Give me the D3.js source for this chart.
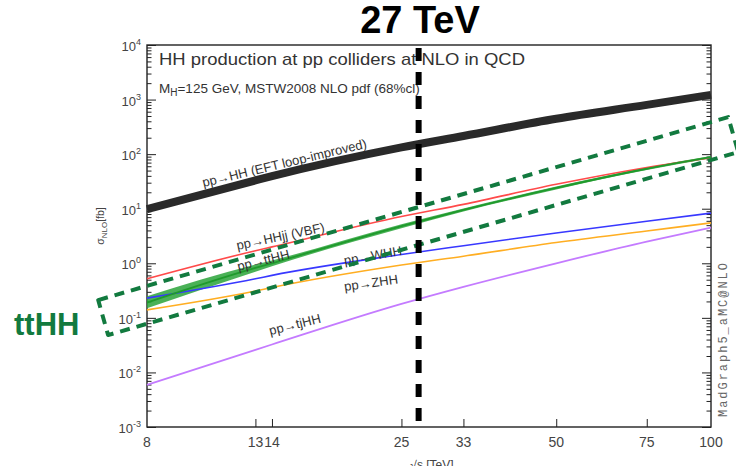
<!DOCTYPE html>
<html>
<head>
<meta charset="utf-8">
<script src="https://cdn.jsdelivr.net/npm/d3@7"></script>
<style>
  body { margin: 0; background: #fff; }
  text { font-family: "Liberation Sans", Arial, sans-serif; }
</style>
</head>
<body>
<svg id="chart" width="736" height="466"></svg>
<script>
// collider energies (TeV) and NLO cross sections (fb)
var energies = [8, 13, 14, 25, 33, 50, 75, 100];
var hh       = [9.8, 33, 39.5, 133, 215, 445, 800, 1220];
var hhjj     = [0.52, 1.7, 2.0, 7.2, 12, 28, 57, 86];
var tthh     = [0.19, 0.82, 1.0, 4.8, 9.5, 24, 54, 88];
var tthhLow  = [0.15, 0.70, 0.88, 4.4, 8.9, 22.5, 51, 84];
var tthhHigh = [0.25, 0.95, 1.13, 5.2, 10.1, 25.5, 57, 92];
var whh      = [0.23, 0.52, 0.60, 1.45, 2.1, 3.6, 5.9, 8.3];
var zhh      = [0.14, 0.31, 0.36, 0.93, 1.35, 2.4, 3.9, 5.5];
var tjhh     = [0.0059, 0.026, 0.0325, 0.18, 0.37, 1.0, 2.5, 4.5];

var xTicks = [13, 14, 25, 33, 50, 75];
var xTickLabels = ["8", "13", "14", "25", "33", "50", "75", "100"];
var decades = [-3, -2, -1, 0, 1, 2, 3, 4];
var highlightEnergy = 27;

// curve labels: [text, energy, sigma, angle]
var curveLabels = [
  ["pp\u2192HH (EFT loop-improved)", 10.3, 24.9, -13.5],
  ["pp\u2192HHjj (VBF)", 12.0, 1.75, -12],
  ["pp\u2192ttHH", 12.05, 0.72, -14],
  ["pp\u2192WHH", 19.4, 0.93, -10],
  ["pp\u2192ZHH", 19.4, 0.31, -8],
  ["pp\u2192tjHH", 13.9, 0.048, -14]
];

// corners of the dashed ttHH highlight box (energy, sigma)
var boxCorners = [[6.43, 0.212], [108, 476], [113, 109], [6.72, 0.0484]];

var width = 736, height = 466,
    margin = {top: 45, right: 25, bottom: 39, left: 147};

var svg = d3.select('#chart');

var x = d3.scaleLog()
  .domain([8, 100])
  .range([margin.left, width - margin.right]);

var y = d3.scaleLog()
  .domain([1e-3, 1e4])
  .range([height - margin.bottom, margin.top]);

var x0 = x.range()[0], x1 = x.range()[1],
    yTop = y.range()[1], yBot = y.range()[0];

// ticks
var allTicks = y.ticks();
var majorTicks = decades.map(function(d) { return Math.pow(10, d); });
var minorTicks = allTicks.filter(function(t) {
  return Math.abs(Math.log10(t) - Math.round(Math.log10(t))) > 1e-6;
});

function styleAxis(g) {
  g.select('.domain').remove();
  g.selectAll('line').attr('stroke', '#222').attr('stroke-width', 1);
}

svg.append('g').attr('transform', 'translate(' + x0 + ',0)')
  .call(d3.axisLeft(y).tickValues(minorTicks).tickSize(-4.5).tickFormat(''))
  .call(styleAxis);
svg.append('g').attr('transform', 'translate(' + x0 + ',0)')
  .call(d3.axisLeft(y).tickValues(majorTicks).tickSize(-9).tickFormat(''))
  .call(styleAxis);
svg.append('g').attr('transform', 'translate(' + x1 + ',0)')
  .call(d3.axisRight(y).tickValues(minorTicks).tickSize(-4.5).tickFormat(''))
  .call(styleAxis);
svg.append('g').attr('transform', 'translate(' + x1 + ',0)')
  .call(d3.axisRight(y).tickValues(majorTicks).tickSize(-9).tickFormat(''))
  .call(styleAxis);
svg.append('g').attr('transform', 'translate(0,' + yBot + ')')
  .call(d3.axisBottom(x).tickValues(xTicks).tickSize(-8).tickFormat(''))
  .call(styleAxis);

// frame
svg.append('rect')
  .attr('x', x0).attr('y', yTop)
  .attr('width', x1 - x0).attr('height', yBot - yTop)
  .attr('fill', 'none').attr('stroke', '#222').attr('stroke-width', 1.4);

// y tick labels 10^n
var yl = svg.append('g').selectAll('text')
  .data(decades)
  .enter().append('text')
  .attr('x', x0 - 6)
  .attr('y', function(d) { return y(Math.pow(10, d)) + 6; })
  .attr('text-anchor', 'end')
  .attr('fill', '#444')
  .style('font-size', '13px');
yl.append('tspan').text('10');
yl.append('tspan').attr('dy', -6).style('font-size', '9px')
  .text(function(d) { return d; });

// x tick labels
svg.append('g').selectAll('text')
  .data(energies)
  .enter().append('text')
  .attr('x', function(d) { return x(d); })
  .attr('y', yBot + 20)
  .attr('text-anchor', 'middle')
  .attr('fill', '#444')
  .style('font-size', '14px')
  .text(function(d, i) { return xTickLabels[i]; });

// axis titles (the x title sits on the bottom edge, as in the original)
svg.append('text')
  .attr('x', 432).attr('y', 469)
  .attr('text-anchor', 'middle').attr('fill', '#444')
  .style('font-size', '12px')
  .text('\u221As [TeV]');

var yt = svg.append('text')
  .attr('transform', 'translate(104,226) rotate(-90)')
  .attr('text-anchor', 'middle').attr('fill', '#444')
  .style('font-size', '10.5px');
yt.append('tspan').text('\u03C3');
yt.append('tspan').attr('dy', 3).style('font-size', '8px').text('NLO');
yt.append('tspan').attr('dy', -3).text('[fb]');

// in-frame texts
svg.append('text')
  .attr('x', 159).attr('y', 65)
  .attr('fill', '#333').style('font-size', '17px')
  .attr('textLength', 366).attr('lengthAdjust', 'spacingAndGlyphs')
  .text('HH production at pp colliders at NLO in QCD');

var sub = svg.append('text')
  .attr('x', 159).attr('y', 93)
  .attr('fill', '#333').style('font-size', '13.5px');
sub.append('tspan').text('M');
sub.append('tspan').attr('dy', 3).style('font-size', '10px').text('H');
sub.append('tspan').attr('dy', -3).text('=125 GeV, MSTW2008 NLO pdf (68%cl)');

svg.append('text')
  .attr('transform', 'translate(727,340) rotate(-90)')
  .attr('text-anchor', 'middle').attr('fill', '#666')
  .style('font-family', '"Liberation Mono", monospace')
  .style('font-size', '12px')
  .attr('textLength', 154).attr('lengthAdjust', 'spacing')
  .text('MadGraph5_aMC@NLO');

// curves
function series(vals) {
  return energies.map(function(e, i) { return [e, vals[i]]; });
}
var line = d3.line()
  .x(function(d) { return x(d[0]); })
  .y(function(d) { return y(d[1]); })
  .curve(d3.curveMonotoneX);

var area = d3.area()
  .x(function(d, i) { return x(energies[i]); })
  .y0(function(d, i) { return y(tthhLow[i]); })
  .y1(function(d, i) { return y(tthhHigh[i]); })
  .curve(d3.curveMonotoneX);

var curves = [
  {vals: hh,   color: '#2a2a2a', w: 8},
  {vals: hhjj, color: '#ff4a4a', w: 1.6},
  {vals: whh,  color: '#3838ff', w: 1.6},
  {vals: zhh,  color: '#ffae22', w: 1.6},
  {vals: tjhh, color: '#c47bff', w: 1.8}
];

var plot = svg.append('g');

plot.append('path')
  .datum(tthh)
  .attr('d', area)
  .attr('fill', '#2aa33a').attr('opacity', 0.85);

plot.selectAll('path.curve')
  .data(curves)
  .enter().append('path')
  .attr('class', 'curve')
  .attr('d', function(d) { return line(series(d.vals)); })
  .attr('fill', 'none')
  .attr('stroke', function(d) { return d.color; })
  .attr('stroke-width', function(d) { return d.w; });

plot.append('path')
  .attr('d', line(series(tthh)))
  .attr('fill', 'none').attr('stroke', '#1f9a2c').attr('stroke-width', 1.8);

// curve labels
svg.append('g').selectAll('text')
  .data(curveLabels)
  .enter().append('text')
  .attr('transform', function(d) {
    return 'translate(' + x(d[1]) + ',' + y(d[2]) + ') rotate(' + d[3] + ')';
  })
  .attr('fill', '#333')
  .style('font-size', '13px')
  .text(function(d) { return d[0]; });

// dashed ttHH highlight box
svg.append('path')
  .attr('d', d3.line()
    .x(function(d) { return x(d[0]); })
    .y(function(d) { return y(d[1]); })
    .curve(d3.curveLinearClosed)(boxCorners))
  .attr('fill', 'none')
  .attr('stroke', '#127a3f')
  .attr('stroke-width', 4)
  .attr('stroke-dasharray', '10,7')
  .attr('stroke-linejoin', 'round');

svg.append('text')
  .attr('x', 14).attr('y', 335)
  .attr('fill', '#127a3f')
  .style('font-size', '31px').style('font-weight', 'bold')
  .text('ttHH');

// 27 TeV marker
svg.append('line')
  .attr('x1', x(highlightEnergy)).attr('x2', x(highlightEnergy))
  .attr('y1', yTop + 3).attr('y2', yBot)
  .attr('stroke', '#000')
  .attr('stroke-width', 6)
  .attr('stroke-dasharray', '13,11');

svg.append('text')
  .attr('x', 420).attr('y', 33)
  .attr('text-anchor', 'middle')
  .style('font-size', '38px').style('font-weight', 'bold')
  .text(highlightEnergy + ' TeV');
</script>
</body>
</html>
